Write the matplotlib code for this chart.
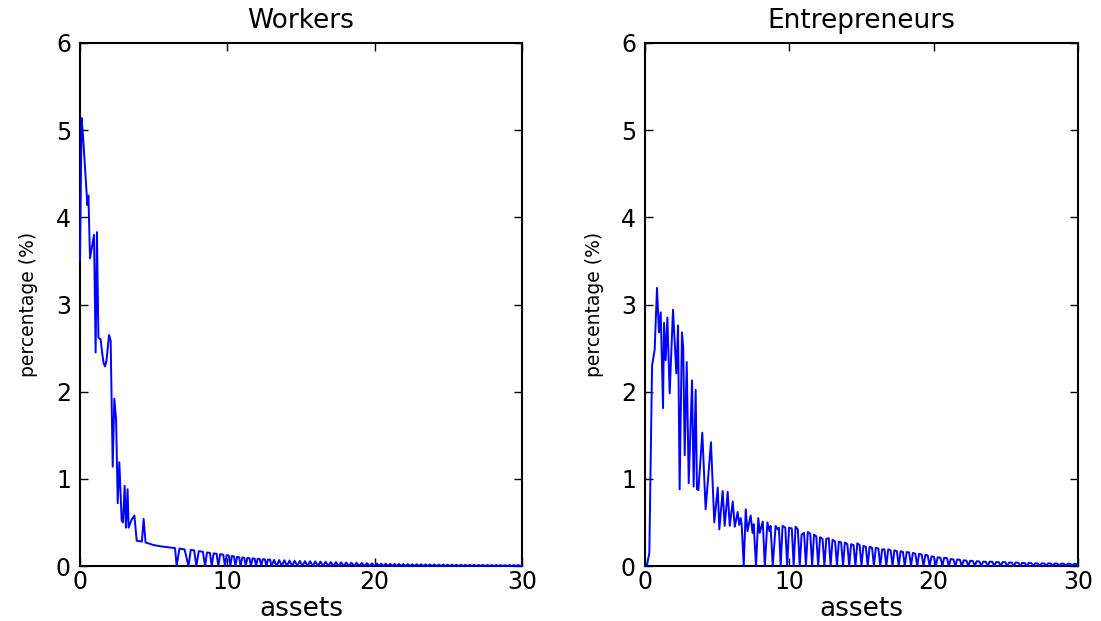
import matplotlib
matplotlib.use('Agg')
import matplotlib.pyplot as plt

# ---------------- data ----------------
titles = ["Workers", "Entrepreneurs"]
x_ticks = [0, 10, 20, 30]
y_ticks = [0, 1, 2, 3, 4, 5, 6]

workers_assets = [
    0.00, 0.11, 0.20, 0.50, 0.57, 0.68, 0.95, 1.06, 1.15, 1.25,
    1.40, 1.50, 1.60, 1.70, 1.80, 1.97, 2.08, 2.22, 2.33, 2.45,
    2.56, 2.67, 2.83, 2.92, 3.03, 3.12, 3.23, 3.30, 3.50, 3.69,
    3.85, 4.20, 4.32, 4.45, 5.00, 5.50, 6.00, 6.45,
    6.56, 6.75, 7.10, 7.36, 7.52, 7.75, 7.90, 8.06, 8.34, 8.49,
    8.62, 8.82, 8.94, 9.07, 9.27, 9.39, 9.51, 9.72, 9.84, 9.95,
    10.10, 10.20, 10.31, 10.45, 10.55, 10.66, 10.80, 10.90, 11.01, 11.15,
    11.25, 11.36, 11.50, 11.60, 11.71, 11.85, 11.95, 12.06, 12.20, 12.30,
    12.41, 12.55, 12.65, 12.76, 12.90, 13.00,
    13.17, 13.35, 13.52, 13.70, 13.87, 14.05, 14.22, 14.40, 14.57, 14.75,
    14.92, 15.10, 15.27, 15.45, 15.62, 15.80, 15.97, 16.15, 16.32, 16.50,
    16.67, 16.85, 17.02, 17.20, 17.37, 17.55, 17.72, 17.90, 18.07, 18.25,
    18.42, 18.60, 18.77, 18.95, 19.12, 19.30, 19.47, 19.65, 19.82, 20.00,
    20.15, 20.30, 20.45, 20.60, 20.75, 20.90, 21.05, 21.20, 21.35, 21.50,
    21.65, 21.80, 21.95, 22.10, 22.25, 22.40, 22.55, 22.70, 22.85, 23.00,
    23.15, 23.30, 23.45, 23.60, 23.75, 23.90, 24.05, 24.20, 24.35, 24.50,
    24.65, 24.80, 24.95, 25.10, 25.25, 25.40, 25.55, 25.70, 25.85, 26.00,
    26.15, 26.30, 26.45, 26.60, 26.75, 26.90, 27.05, 27.20, 27.35, 27.50,
    27.65, 27.80, 27.95, 28.10, 28.25, 28.40, 28.55, 28.70, 28.85, 29.00,
    29.15, 29.30, 29.45, 29.60, 29.75, 29.90, 30.00,
]
workers_pct = [
    3.51, 5.14, 4.95, 4.14, 4.25, 3.53, 3.80, 2.45, 3.83, 2.62,
    2.60, 2.45, 2.33, 2.29, 2.36, 2.65, 2.59, 1.14, 1.92, 1.68,
    0.72, 1.19, 0.52, 0.50, 0.92, 0.44, 0.88, 0.44, 0.53, 0.58,
    0.29, 0.28, 0.54, 0.27, 0.24, 0.225, 0.215, 0.205,
    0.0, 0.20, 0.19, 0.0, 0.185, 0.178, 0.0, 0.17, 0.163, 0.0,
    0.155, 0.15, 0.0, 0.145, 0.14, 0.0, 0.135, 0.13, 0.0, 0.125,
    0.12, 0.0, 0.115, 0.11, 0.0, 0.105, 0.10, 0.0, 0.098, 0.095,
    0.0, 0.092, 0.09, 0.0, 0.087, 0.085, 0.0, 0.083, 0.08, 0.0,
    0.078, 0.076, 0.0, 0.074, 0.072, 0.0,
    0.07, 0.0, 0.068, 0.0, 0.066, 0.0, 0.063, 0.0, 0.06, 0.0,
    0.058, 0.0, 0.056, 0.0, 0.054, 0.0, 0.052, 0.0, 0.05, 0.0,
    0.048, 0.0, 0.046, 0.0, 0.044, 0.0, 0.042, 0.0, 0.04, 0.0,
    0.038, 0.0, 0.036, 0.0, 0.034, 0.0, 0.032, 0.0, 0.03, 0.0,
    0.028, 0.0, 0.027, 0.0, 0.026, 0.0, 0.025, 0.0, 0.024, 0.0,
    0.023, 0.0, 0.022, 0.0, 0.021, 0.0, 0.02, 0.0, 0.02, 0.0,
    0.019, 0.0, 0.018, 0.0, 0.018, 0.0, 0.017, 0.0, 0.016, 0.0,
    0.016, 0.0, 0.015, 0.0, 0.015, 0.0, 0.014, 0.0, 0.014, 0.0,
    0.013, 0.0, 0.013, 0.0, 0.012, 0.0, 0.012, 0.0, 0.012, 0.0,
    0.011, 0.0, 0.011, 0.0, 0.011, 0.0, 0.01, 0.0, 0.01, 0.0,
    0.01, 0.0, 0.01, 0.0, 0.01, 0.0, 0.005,
]

entre_assets = [
    0.00, 0.15, 0.30, 0.49, 0.67, 0.83, 0.97, 1.09, 1.25, 1.32,
    1.43, 1.55, 1.71, 1.94, 2.17, 2.29, 2.40, 2.56, 2.65, 2.75,
    2.89, 3.03, 3.26, 3.37, 3.51, 3.60, 3.70, 3.97, 4.20, 4.57,
    4.80, 5.04, 5.15, 5.38, 5.52, 5.73, 5.87, 6.08, 6.22, 6.42,
    6.53, 6.63, 6.70, 6.84, 6.98, 7.10, 7.32, 7.45, 7.53, 7.69,
    7.85, 7.95, 8.16, 8.30, 8.48, 8.62, 8.70, 8.85, 9.05, 9.20,
    9.28, 9.40,
    9.53, 9.72, 9.85, 9.98, 10.17, 10.30, 10.43, 10.59, 10.72,
    10.85, 11.02, 11.15, 11.28, 11.45, 11.58, 11.71, 11.87, 12.00,
    12.13, 12.30, 12.43, 12.56, 12.73, 12.86, 12.99, 13.17, 13.30,
    13.43, 13.59, 13.72, 13.85, 14.02, 14.15, 14.28, 14.45, 14.58,
    14.71, 14.87, 15.00, 15.13, 15.30, 15.43, 15.56, 15.73, 15.86,
    15.99, 16.17, 16.30, 16.43, 16.59, 16.72, 16.85, 17.02, 17.15,
    17.28, 17.45, 17.58, 17.71, 17.87, 18.00, 18.13, 18.30, 18.43,
    18.56, 18.73, 18.86, 18.99, 19.17, 19.30, 19.43, 19.59, 19.72,
    19.85, 20.02, 20.15, 20.28, 20.47, 20.60, 20.73, 20.92, 21.05,
    21.18, 21.37, 21.50, 21.63, 21.82, 21.95, 22.08, 22.27, 22.40,
    22.53, 22.72, 22.85, 22.98, 23.17, 23.30, 23.43, 23.62, 23.75,
    23.88, 24.07, 24.20, 24.33, 24.52, 24.65, 24.78, 24.97, 25.10,
    25.23, 25.42, 25.55, 25.68, 25.87, 26.00, 26.13, 26.32, 26.45,
    26.58, 26.77, 26.90, 27.03, 27.22, 27.35, 27.48, 27.67, 27.80,
    27.93, 28.12, 28.25, 28.38, 28.57, 28.70, 28.83, 29.02, 29.15,
    29.28, 29.47, 29.60, 29.72, 29.88, 30.00,
]
entre_pct = [
    0.00, 0.02, 0.15, 2.30, 2.48, 3.19, 2.68, 2.91, 1.81, 2.79,
    2.36, 2.85, 1.98, 2.94, 2.21, 2.76, 0.88, 2.68, 2.50, 1.27,
    2.34, 0.95, 2.13, 0.91, 2.02, 0.88, 0.87, 1.53, 0.65, 1.42,
    0.50, 0.90, 0.42, 0.86, 0.46, 0.85, 0.46, 0.74, 0.45, 0.62,
    0.47, 0.55, 0.47, 0.0, 0.65, 0.40, 0.58, 0.38, 0.48, 0.0,
    0.55, 0.38, 0.51, 0.0, 0.50, 0.40, 0.46, 0.0, 0.46, 0.42,
    0.44, 0.0,
    0.46, 0.44, 0.0, 0.44, 0.43, 0.0, 0.45, 0.42, 0.0,
    0.36, 0.38, 0.0, 0.39, 0.37, 0.0, 0.36, 0.34, 0.0,
    0.33, 0.31, 0.0, 0.31, 0.32, 0.0, 0.30, 0.28, 0.0,
    0.28, 0.27, 0.0, 0.27, 0.25, 0.0, 0.25, 0.24, 0.0,
    0.26, 0.24, 0.0, 0.23, 0.22, 0.0, 0.22, 0.21, 0.0,
    0.21, 0.20, 0.0, 0.19, 0.19, 0.0, 0.19, 0.18, 0.0,
    0.18, 0.17, 0.0, 0.17, 0.16, 0.0, 0.16, 0.155, 0.0,
    0.15, 0.14, 0.0, 0.14, 0.13, 0.0, 0.13, 0.12, 0.0,
    0.11, 0.105, 0.0, 0.10, 0.095, 0.0, 0.095, 0.09, 0.0,
    0.08, 0.075, 0.0, 0.075, 0.07, 0.0, 0.065, 0.062, 0.0,
    0.06, 0.057, 0.0, 0.055, 0.052, 0.0, 0.05, 0.048, 0.0,
    0.05, 0.047, 0.0, 0.045, 0.043, 0.0, 0.045, 0.042, 0.0,
    0.04, 0.038, 0.0, 0.04, 0.037, 0.0, 0.035, 0.033, 0.0,
    0.035, 0.033, 0.0, 0.03, 0.029, 0.0, 0.03, 0.029, 0.0,
    0.03, 0.028, 0.0, 0.028, 0.027, 0.0, 0.027, 0.026, 0.0,
    0.026, 0.025, 0.0, 0.025, 0.024, 0.0,
]

# ---------------- figure ----------------
W, H = 1101, 621
fig = plt.figure(figsize=(W / 100, H / 100), dpi=100)
ax1 = fig.add_axes([80 / W, 55 / H, 442 / W, 523 / H])
ax2 = fig.add_axes([645 / W, 55 / H, 433 / W, 523 / H])

series = [(ax1, workers_assets, workers_pct, titles[0]),
          (ax2, entre_assets, entre_pct, titles[1])]

for ax, xs, ys, title in series:
    ax.plot(xs, ys, color='#0000ff', lw=1.4, clip_on=False, zorder=3)
    ax.set_xlim(0, 30)
    ax.set_ylim(0, 6)
    ax.set_xticks(x_ticks)
    ax.set_yticks(y_ticks)
    ax.tick_params(direction='in', top=True, right=True, length=6, width=1,
                   labelsize=17, colors='black')
    ax.tick_params(axis='x', pad=3)
    ax.tick_params(axis='y', pad=6.5)
    for s in ax.spines.values():
        s.set_linewidth(1.5)
    ax.set_title(title, fontsize=19, pad=11)
    ax.set_xlabel('assets', fontsize=19, labelpad=1)
    ax.set_ylabel('percentage (%)', fontsize=13.5)
    ax.yaxis.set_label_coords(-0.095, 0.5)

fig.savefig('out.png', dpi=100)
